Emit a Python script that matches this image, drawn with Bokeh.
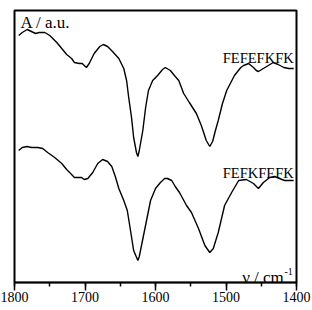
from bokeh.plotting import figure
from bokeh.models import Range1d, SingleIntervalTicker, Label
from bokeh.embed import file_html
from bokeh.resources import INLINE

# Wavenumbers (cm^-1) and absorbance (a.u.)
wn_top = [1794, 1789, 1782, 1776, 1770, 1765, 1757, 1750, 1740, 1733, 1726, 1719, 1715,
          1708, 1704, 1698, 1694, 1687, 1679, 1674, 1668, 1661, 1652, 1645, 1641, 1638,
          1634, 1631, 1627, 1625, 1623, 1618, 1614, 1610, 1604, 1597, 1590, 1586, 1579,
          1572, 1567, 1560, 1552, 1542, 1535, 1528, 1523, 1519, 1515, 1511, 1505, 1499,
          1488, 1479, 1475, 1468, 1461, 1457, 1454, 1447, 1440, 1433, 1426, 1418, 1411, 1404]
a_top = [2.47, 2.50, 2.53, 2.51, 2.49, 2.50, 2.50, 2.47, 2.40, 2.34, 2.28, 2.24, 2.20,
         2.19, 2.19, 2.15, 2.19, 2.29, 2.36, 2.38, 2.36, 2.31, 2.24, 2.14, 2.02, 1.85,
         1.65, 1.45, 1.30, 1.26, 1.32, 1.52, 1.75, 1.92, 2.02, 2.07, 2.13, 2.15, 2.12,
         2.06, 2.02, 1.89, 1.80, 1.69, 1.57, 1.42, 1.36, 1.41, 1.52, 1.62, 1.79, 1.92,
         2.07, 2.15, 2.17, 2.19, 2.15, 2.12, 2.11, 2.14, 2.17, 2.20, 2.18, 2.15, 2.14, 2.14]

wn_bot = [1794, 1789, 1782, 1776, 1767, 1760, 1753, 1743, 1733, 1726, 1719, 1715, 1711,
          1705, 1701, 1696, 1689, 1682, 1675, 1668, 1662, 1657, 1652, 1645, 1640, 1635,
          1631, 1625, 1623, 1617, 1611, 1607, 1600, 1593, 1587, 1583, 1577, 1572, 1566,
          1556, 1549, 1539, 1530, 1523, 1518, 1511, 1502, 1492, 1482, 1471, 1461, 1454,
          1447, 1438, 1431, 1424, 1417, 1410, 1404]
a_bot = [1.32, 1.35, 1.36, 1.35, 1.35, 1.34, 1.30, 1.25, 1.19, 1.13, 1.08, 1.05, 1.05,
         1.05, 1.03, 1.04, 1.10, 1.19, 1.23, 1.21, 1.16, 1.06, 0.94, 0.82, 0.72, 0.50,
         0.32, 0.22, 0.26, 0.47, 0.68, 0.82, 0.94, 1.00, 1.04, 1.04, 1.02, 0.96, 0.90,
         0.77, 0.70, 0.54, 0.37, 0.30, 0.34, 0.50, 0.77, 0.90, 1.02, 1.03, 0.99, 0.94,
         1.00, 1.05, 1.06, 1.04, 1.02, 1.02, 1.02]

names = ["FEFEFKFK", "FEFKFEFK"]
name_pos_x = [1404, 1404]
name_pos_y = [2.25, 1.10]

FONT = "Liberation Serif"

p = figure(width=312, height=310, output_backend="svg", toolbar_location=None,
           x_range=Range1d(1800, 1400), y_range=Range1d(0, 2.72),
           min_border_left=14, min_border_right=16, min_border_top=10, min_border_bottom=28)
p.background_fill_color = "white"
p.border_fill_color = "white"
p.grid.visible = False
p.yaxis.visible = False
p.outline_line_color = "black"
p.outline_line_width = 2
p.outline_line_alpha = 1.0

ax = p.below[0]
ax.ticker = SingleIntervalTicker(interval=100, num_minor_ticks=2)
ax.axis_line_width = 1.5
ax.major_tick_line_width = 1.5
ax.minor_tick_line_width = 1.5
ax.major_tick_out = 8
ax.major_tick_in = 0
ax.minor_tick_out = 4
ax.minor_tick_in = 0
ax.major_label_text_font = FONT
ax.major_label_text_font_size = "14px"
ax.major_label_text_color = "black"
ax.major_label_standoff = 1

p.line(wn_top, a_top, line_color="black", line_width=1.4)
p.line(wn_bot, a_bot, line_color="black", line_width=1.4)

for nm, x, y in zip(names, name_pos_x, name_pos_y):
    p.add_layout(Label(x=x, y=y, text=nm, text_font=FONT, text_font_size="14.5px",
                       text_align="right", text_baseline="alphabetic", text_color="black"))

p.add_layout(Label(x=1791.5, y=2.60, text="A / a.u.", text_font=FONT, text_font_size="17px",
                   text_align="left", text_baseline="alphabetic", text_color="black"))
p.add_layout(Label(x=1418, y=0.053, text="\u03bd / cm", text_font=FONT, text_font_size="17px",
                   text_align="right", text_baseline="alphabetic", text_color="black"))
p.add_layout(Label(x=1417, y=0.11, text="-1", text_font=FONT, text_font_size="10px",
                   text_align="left", text_baseline="alphabetic", text_color="black"))

open("out.html", "w").write(file_html(p, INLINE))
